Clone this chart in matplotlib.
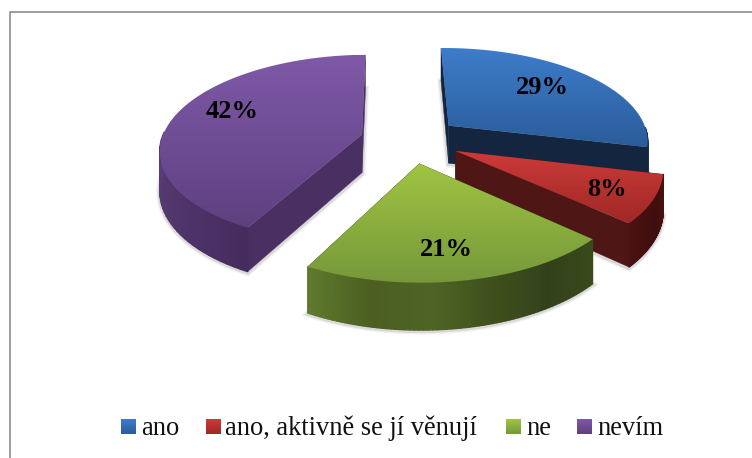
import numpy as np
import matplotlib
matplotlib.use("Agg")
import matplotlib.pyplot as plt
from matplotlib.patches import Polygon, Rectangle
from matplotlib.colors import LinearSegmentedColormap as LSC

categories = ["ano", "ano, aktivně se jí věnují", "ne", "nevím"]
values = [29, 8, 21, 42]
top_colors = [("#3E7DCB", "#2A5C9A"), ("#CC3B39", "#A02826"), ("#A0C443", "#76983A"), ("#7F59A8", "#5E4080")]
radial_colors = ["#14263F", "#4E1614", "#3A4A1A", "#4A2F63"]
arc_shades = [["#14263F", "#14263F"], ["#4A1210", "#3F0E0E", "#4A1210"],
              ["#3A4A1A", "#33411A", "#3E4F1C", "#4E6424", "#4C5F20", "#5E7A2E"],
              ["#452C5E", "#54386F", "#5C4080", "#5C4080", "#5C4080"]]
label_xy = [(542, 88), (607, 190), (446, 250), (232, 112)]
legend_sw = [121, 206, 506, 577]
legend_tx = [141, 225, 526, 597]

# perspective projection of the exploded 3-D pie
X0, Y0, SX, SY, DIST, EXPLODE, ROT = 410.38, 139.87, 200.58, 93.2, 6.671, 0.25, -0.016
DEPTH = 38.5

edges = np.cumsum([0] + values) / 100 * 2 * np.pi
mids = (edges[:-1] + edges[1:]) / 2


def proj(X, Y):
    s = DIST / (DIST + Y)
    return X0 + SX * X * s, Y0 - SY * Y * s, s


fig = plt.figure(figsize=(7.52, 4.58), dpi=100)
ax = fig.add_axes([0, 0, 1, 1])
ax.axis("off")
ax.plot([9.5, 9.5, 752], [458, 11.5, 11.5], color="#8C8C8C", lw=1.2)

for i in [0, 3, 1, 2]:
    th = np.linspace(edges[i], edges[i + 1], 70)
    ox = EXPLODE * np.sin(mids[i] + ROT)
    oy = EXPLODE * np.cos(mids[i] + ROT)
    u, v, s = proj(ox + np.sin(th + ROT), oy + np.cos(th + ROT))
    au, av, asc = proj(ox, oy)
    # soft shadow
    outline = np.r_[[[au, av + DEPTH * asc]], np.c_[u, v + DEPTH * s]]
    for lw, al in ((5, .08), (3, .15)):
        ax.add_patch(Polygon(outline + [0, 1], closed=True, fc="none", ec="#555555", lw=lw, alpha=al, zorder=2))
    # radial faces
    for k in (0, -1):
        ax.add_patch(Polygon([(au, av), (u[k], v[k]), (u[k], v[k] + DEPTH * s[k]), (au, av + DEPTH * asc)],
                             closed=True, fc=radial_colors[i], ec=radial_colors[i], lw=.3, zorder=3))
    # outer wall: only the part turned towards the viewer
    cm = LSC.from_list("w", arc_shades[i])
    for k in range(len(th) - 1):
        if np.cos(th[k] + ROT) > 0.0:
            continue
        c = cm(k / (len(th) - 2))
        ax.add_patch(Polygon([(u[k], v[k]), (u[k + 1], v[k + 1]), (u[k + 1], v[k + 1] + DEPTH * s[k + 1]),
                              (u[k], v[k] + DEPTH * s[k])], closed=True, fc=c, ec=c, lw=1.0,
                             joinstyle="round", zorder=3))
    # top face with gradient
    poly = Polygon(np.r_[[[au, av]], np.c_[u, v]], closed=True, fc="none", ec="none", zorder=4)
    ax.add_patch(poly)
    g = np.linspace(0, 1, 128).reshape(-1, 1)
    im = ax.imshow(g, cmap=LSC.from_list("t", top_colors[i]), aspect="auto",
                   extent=(min(u.min(), au), max(u.max(), au), max(v.max(), av), min(v.min(), av)), zorder=4)
    im.set_clip_path(poly)

serif = "Liberation Serif"
for v_, (x, y) in zip(values, label_xy):
    ax.text(x, y, f"{v_}%", ha="center", va="center", fontsize=19, fontweight="bold", family=serif, color="black", zorder=6)

for i, c in enumerate(categories):
    r = Rectangle((legend_sw[i], 419), 14.5, 15, fc="none", ec="none", zorder=4)
    ax.add_patch(r)
    im = ax.imshow(np.linspace(0, 1, 32).reshape(-1, 1), cmap=LSC.from_list("l", top_colors[i]), aspect="auto",
                   extent=(legend_sw[i], legend_sw[i] + 14.5, 434, 419), zorder=4)
    im.set_clip_path(r)
    ax.text(legend_tx[i], 435, c, ha="left", va="baseline", fontsize=19.1, family=serif, color="#111111")

ax.set_xlim(0, 752)
ax.set_ylim(458, 0)
fig.savefig("out.png", dpi=100)
